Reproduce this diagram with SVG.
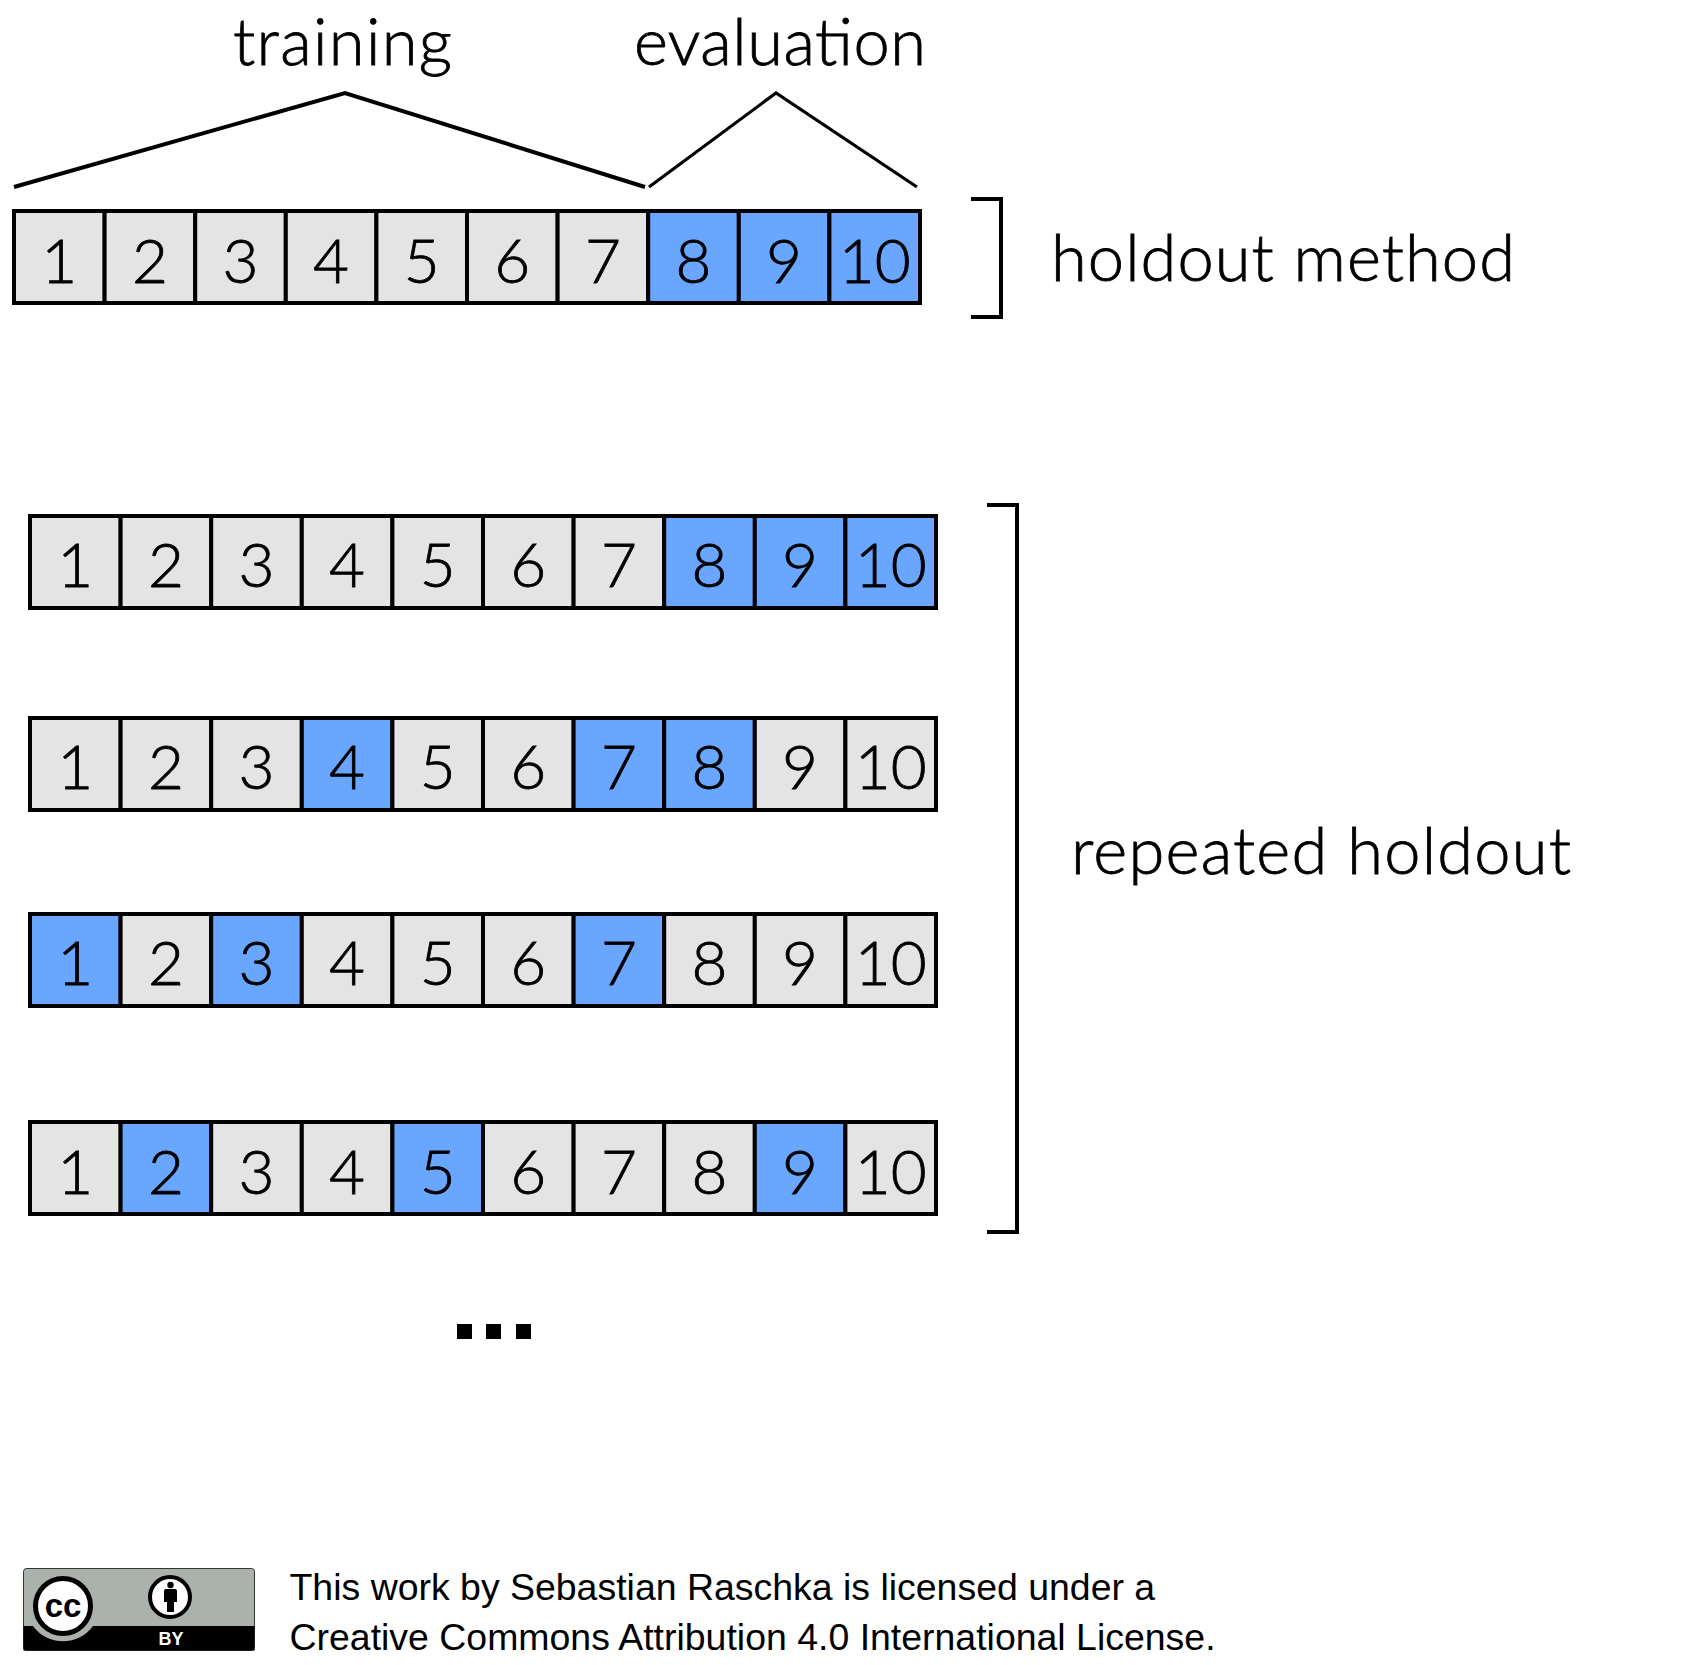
<svg xmlns="http://www.w3.org/2000/svg" width="1682" height="1665" viewBox="0 0 1682 1665">
<style>
.t{fill:#e4e4e4;stroke:#000;stroke-width:4}
.e{fill:#68a6ff;stroke:#000;stroke-width:4}
.d{font-family:"Lato","Liberation Sans",sans-serif;font-weight:300;font-size:62px;text-anchor:middle;fill:#000;stroke:#000;stroke-width:.8}
.l{font-family:"Lato","Liberation Sans",sans-serif;font-weight:300;font-size:65px;fill:#000;stroke:#000;stroke-width:.8}
.f{font-family:"Liberation Sans",Arial,sans-serif;font-size:37.45px;fill:#000}
.c{fill:none;stroke:#000;stroke-width:4}
</style>
<rect width="1682" height="1665" fill="#fff"/>
<g id="connectors">
<polyline class="c" points="14,187 345,93 645,187"/>
<polyline class="c" style="stroke-width:3.2" points="649,187 776,93 917,187"/>
<polyline class="c" points="971,199 1001,199 1001,317 971,317"/>
<polyline class="c" points="987,505 1017,505 1017,1232 987,1232"/>
</g>
<g id="row0" transform="translate(14,211)">
<g id="r0c1"><rect class="t" x="0" width="90.6" height="92"/><text class="d" x="45.3" y="72">1</text></g>
<g id="r0c2"><rect class="t" x="90.6" width="90.6" height="92"/><text class="d" x="135.9" y="72">2</text></g>
<g id="r0c3"><rect class="t" x="181.2" width="90.6" height="92"/><text class="d" x="226.5" y="72">3</text></g>
<g id="r0c4"><rect class="t" x="271.8" width="90.6" height="92"/><text class="d" x="317.1" y="72">4</text></g>
<g id="r0c5"><rect class="t" x="362.4" width="90.6" height="92"/><text class="d" x="407.7" y="72">5</text></g>
<g id="r0c6"><rect class="t" x="453" width="90.6" height="92"/><text class="d" x="498.3" y="72">6</text></g>
<g id="r0c7"><rect class="t" x="543.6" width="90.6" height="92"/><text class="d" x="588.9" y="72">7</text></g>
<g id="r0c8"><rect class="e" x="634.2" width="90.6" height="92"/><text class="d" x="679.5" y="72">8</text></g>
<g id="r0c9"><rect class="e" x="724.8" width="90.6" height="92"/><text class="d" x="770.1" y="72">9</text></g>
<g id="r0c10"><rect class="e" x="815.4" width="90.6" height="92"/><text class="d" x="860.7" y="72">10</text></g>
</g>
<g id="row1" transform="translate(30,516)">
<g id="r1c1"><rect class="t" x="0" width="90.6" height="92"/><text class="d" x="45.3" y="71">1</text></g>
<g id="r1c2"><rect class="t" x="90.6" width="90.6" height="92"/><text class="d" x="135.9" y="71">2</text></g>
<g id="r1c3"><rect class="t" x="181.2" width="90.6" height="92"/><text class="d" x="226.5" y="71">3</text></g>
<g id="r1c4"><rect class="t" x="271.8" width="90.6" height="92"/><text class="d" x="317.1" y="71">4</text></g>
<g id="r1c5"><rect class="t" x="362.4" width="90.6" height="92"/><text class="d" x="407.7" y="71">5</text></g>
<g id="r1c6"><rect class="t" x="453" width="90.6" height="92"/><text class="d" x="498.3" y="71">6</text></g>
<g id="r1c7"><rect class="t" x="543.6" width="90.6" height="92"/><text class="d" x="588.9" y="71">7</text></g>
<g id="r1c8"><rect class="e" x="634.2" width="90.6" height="92"/><text class="d" x="679.5" y="71">8</text></g>
<g id="r1c9"><rect class="e" x="724.8" width="90.6" height="92"/><text class="d" x="770.1" y="71">9</text></g>
<g id="r1c10"><rect class="e" x="815.4" width="90.6" height="92"/><text class="d" x="860.7" y="71">10</text></g>
</g>
<g id="row2" transform="translate(30,718)">
<g id="r2c1"><rect class="t" x="0" width="90.6" height="92"/><text class="d" x="45.3" y="71">1</text></g>
<g id="r2c2"><rect class="t" x="90.6" width="90.6" height="92"/><text class="d" x="135.9" y="71">2</text></g>
<g id="r2c3"><rect class="t" x="181.2" width="90.6" height="92"/><text class="d" x="226.5" y="71">3</text></g>
<g id="r2c4"><rect class="e" x="271.8" width="90.6" height="92"/><text class="d" x="317.1" y="71">4</text></g>
<g id="r2c5"><rect class="t" x="362.4" width="90.6" height="92"/><text class="d" x="407.7" y="71">5</text></g>
<g id="r2c6"><rect class="t" x="453" width="90.6" height="92"/><text class="d" x="498.3" y="71">6</text></g>
<g id="r2c7"><rect class="e" x="543.6" width="90.6" height="92"/><text class="d" x="588.9" y="71">7</text></g>
<g id="r2c8"><rect class="e" x="634.2" width="90.6" height="92"/><text class="d" x="679.5" y="71">8</text></g>
<g id="r2c9"><rect class="t" x="724.8" width="90.6" height="92"/><text class="d" x="770.1" y="71">9</text></g>
<g id="r2c10"><rect class="t" x="815.4" width="90.6" height="92"/><text class="d" x="860.7" y="71">10</text></g>
</g>
<g id="row3" transform="translate(30,914)">
<g id="r3c1"><rect class="e" x="0" width="90.6" height="92"/><text class="d" x="45.3" y="71">1</text></g>
<g id="r3c2"><rect class="t" x="90.6" width="90.6" height="92"/><text class="d" x="135.9" y="71">2</text></g>
<g id="r3c3"><rect class="e" x="181.2" width="90.6" height="92"/><text class="d" x="226.5" y="71">3</text></g>
<g id="r3c4"><rect class="t" x="271.8" width="90.6" height="92"/><text class="d" x="317.1" y="71">4</text></g>
<g id="r3c5"><rect class="t" x="362.4" width="90.6" height="92"/><text class="d" x="407.7" y="71">5</text></g>
<g id="r3c6"><rect class="t" x="453" width="90.6" height="92"/><text class="d" x="498.3" y="71">6</text></g>
<g id="r3c7"><rect class="e" x="543.6" width="90.6" height="92"/><text class="d" x="588.9" y="71">7</text></g>
<g id="r3c8"><rect class="t" x="634.2" width="90.6" height="92"/><text class="d" x="679.5" y="71">8</text></g>
<g id="r3c9"><rect class="t" x="724.8" width="90.6" height="92"/><text class="d" x="770.1" y="71">9</text></g>
<g id="r3c10"><rect class="t" x="815.4" width="90.6" height="92"/><text class="d" x="860.7" y="71">10</text></g>
</g>
<g id="row4" transform="translate(30,1122)">
<g id="r4c1"><rect class="t" x="0" width="90.6" height="92"/><text class="d" x="45.3" y="72">1</text></g>
<g id="r4c2"><rect class="e" x="90.6" width="90.6" height="92"/><text class="d" x="135.9" y="72">2</text></g>
<g id="r4c3"><rect class="t" x="181.2" width="90.6" height="92"/><text class="d" x="226.5" y="72">3</text></g>
<g id="r4c4"><rect class="t" x="271.8" width="90.6" height="92"/><text class="d" x="317.1" y="72">4</text></g>
<g id="r4c5"><rect class="e" x="362.4" width="90.6" height="92"/><text class="d" x="407.7" y="72">5</text></g>
<g id="r4c6"><rect class="t" x="453" width="90.6" height="92"/><text class="d" x="498.3" y="72">6</text></g>
<g id="r4c7"><rect class="t" x="543.6" width="90.6" height="92"/><text class="d" x="588.9" y="72">7</text></g>
<g id="r4c8"><rect class="t" x="634.2" width="90.6" height="92"/><text class="d" x="679.5" y="72">8</text></g>
<g id="r4c9"><rect class="e" x="724.8" width="90.6" height="92"/><text class="d" x="770.1" y="72">9</text></g>
<g id="r4c10"><rect class="t" x="815.4" width="90.6" height="92"/><text class="d" x="860.7" y="72">10</text></g>
</g>
<g id="labels">
<text class="l" x="233" y="65" textLength="219">training</text>
<text class="l" x="634" y="65" textLength="292">evaluation</text>
<text class="l" x="1051" y="281" textLength="464">holdout method</text>
<text class="l" x="1071" y="874" textLength="500">repeated holdout</text>
</g>
<g id="ellipsis">
<rect x="457" y="1324" width="15" height="15"/>
<rect x="486" y="1324" width="15" height="15"/>
<rect x="516" y="1324" width="15" height="15"/>
</g>
<g id="badge">
<rect x="23.500" y="1568.500" width="231" height="82" rx="3" fill="#aab2ab" stroke="#333" stroke-width="1"/>
<path d="M23.500 1626H254.500V1650.500H23.500Z" fill="#000"/>
<path d="M33 1626a37 37 0 0 0 60 0Z" fill="#aab2ab"/>
<circle cx="63" cy="1606" r="27.500" fill="#fff" stroke="#000" stroke-width="5"/>
<text x="63" y="1617" font-family="Liberation Sans,sans-serif" font-weight="700" font-size="33" text-anchor="middle" fill="#000">cc</text>
<circle cx="170" cy="1597" r="20" fill="#fff" stroke="#000" stroke-width="4"/>
<circle cx="170.500" cy="1585" r="3.200" fill="#000"/>
<path d="M164 1591a2 2 0 0 1 2-2h9a2 2 0 0 1 2 2v11h-3v10h-7v-10h-3Z" fill="#000"/>
<text x="171" y="1645" font-family="Liberation Sans,sans-serif" font-weight="700" font-size="18" text-anchor="middle" fill="#fff">BY</text>
</g>
<g id="license">
<text class="f" x="289.500" y="1600">This work by Sebastian Raschka is licensed under a</text>
<text class="f" x="289.500" y="1650">Creative Commons Attribution 4.0 International License.</text>
</g>
</svg>
